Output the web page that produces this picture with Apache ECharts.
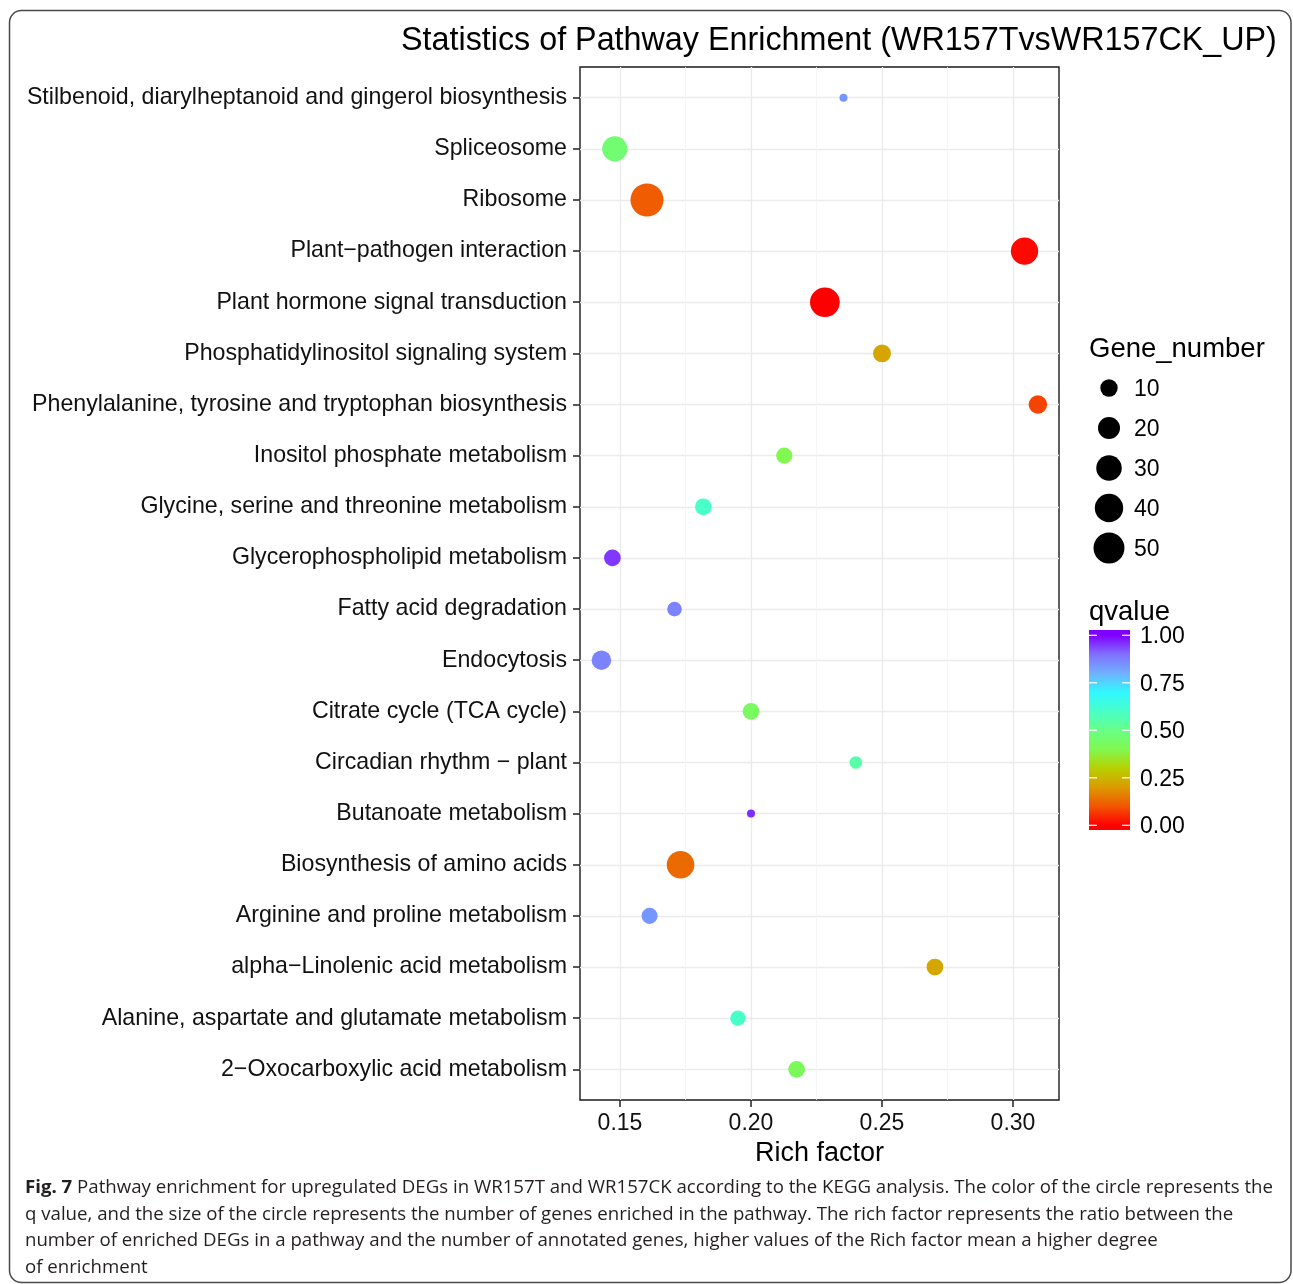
<!DOCTYPE html>
<html>
<head>
<meta charset="utf-8">
<script src="https://cdn.jsdelivr.net/npm/echarts@6/dist/echarts.min.js"></script>
<style>
  html, body { margin: 0; padding: 0; background: #fff; }
  #chart { width: 1293px; height: 1284px; }
</style>
</head>
<body>
<div id="chart"></div>
<script>
// KEGG pathways, listed bottom-to-top on the y axis
const pathways = [
  '2\u2212Oxocarboxylic acid metabolism',
  'Alanine, aspartate and glutamate metabolism',
  'alpha\u2212Linolenic acid metabolism',
  'Arginine and proline metabolism',
  'Biosynthesis of amino acids',
  'Butanoate metabolism',
  'Circadian rhythm \u2212 plant',
  'Citrate cycle (TCA cycle)',
  'Endocytosis',
  'Fatty acid degradation',
  'Glycerophospholipid metabolism',
  'Glycine, serine and threonine metabolism',
  'Inositol phosphate metabolism',
  'Phenylalanine, tyrosine and tryptophan biosynthesis',
  'Phosphatidylinositol signaling system',
  'Plant hormone signal transduction',
  'Plant\u2212pathogen interaction',
  'Ribosome',
  'Spliceosome',
  'Stilbenoid, diarylheptanoid and gingerol biosynthesis'
];
const richFactor = [
  0.2174, 0.1950, 0.2702, 0.1613, 0.1731, 0.2000, 0.2400, 0.2000, 0.1429, 0.1708,
  0.1471, 0.1818, 0.2127, 0.3095, 0.2500, 0.2282, 0.3044, 0.1603, 0.1480, 0.2353
];
const geneNumber = [
  9, 7, 9, 8, 37, 2, 4, 9, 14, 6,
  9, 9, 8, 12, 11, 45, 36, 59, 29, 2
];
const qValue = [
  0.42, 0.60, 0.22, 0.84, 0.13, 0.96, 0.55, 0.43, 0.87, 0.87,
  0.95, 0.60, 0.40, 0.08, 0.22, 0.00, 0.01, 0.11, 0.46, 0.84
];

// axis ticks
const xTicks = [0.15, 0.20, 0.25, 0.30];
const xMinorTicks = [0.175, 0.225, 0.275];
const xMin = 0.13473, xMax = 0.31756;

// legends
const sizeBreaks = [10, 20, 30, 40, 50];
const qBreaks = [0, 0.25, 0.5, 0.75, 1];
const qBreakLabels = ['0.00', '0.25', '0.50', '0.75', '1.00'];

// colour ramp for q value, evenly spaced from 0 to 1
const qColors = [
  '#FF0000', '#F25500', '#DC9A00', '#B8D000', '#80F850', '#68FF88',
  '#48FFC8', '#30F8FF', '#70B0FF', '#8070FF', '#8000FF'
];

// point diameter (px) from gene count, area-style scaling
const gMin = 2, gMax = 59;
function sizeOf(g) {
  return 8 + 25 * Math.sqrt(Math.max(0, g - gMin) / (gMax - gMin));
}

const FONT = '"Liberation Sans", Arial, Helvetica, sans-serif';
const CAP_FONT = '"Open Sans", "Noto Sans", sans-serif';

const chart = echarts.init(document.getElementById('chart'), null, { renderer: 'canvas' });

const points = pathways.map((p, i) => [richFactor[i], i, geneNumber[i], qValue[i]]);
const yTicks = pathways.map((p, i) => i);

// colour bar geometry
const barX = 1089, barTop = 630, barBottom = 830, barW = 41;
const qToY = v => 825.3 - v * 190;
const barLow = (825.3 - barBottom) / 190;   // value at bar bottom
const barHigh = (825.3 - barTop) / 190;     // value at bar top
const gradStops = [{ offset: 0, color: qColors[0] }];
qColors.forEach((c, i) => {
  const v = i / (qColors.length - 1);
  gradStops.push({ offset: (v - barLow) / (barHigh - barLow), color: c });
});
gradStops.push({ offset: 1, color: qColors[qColors.length - 1] });

const graphics = [];

// outer rounded frame
graphics.push({
  type: 'rect', silent: true, z: 0,
  shape: { x: 9.5, y: 10.5, width: 1281.5, height: 1272, r: 12 },
  style: { fill: 'none', stroke: '#4a4a4a', lineWidth: 1.5 }
});

// title
graphics.push({
  type: 'text', left: 401, top: 25,
  style: { text: 'Statistics of Pathway Enrichment (WR157TvsWR157CK_UP)', font: '32.3px ' + FONT, fill: '#000' }
});

// size legend
graphics.push({
  type: 'text', x: 1089, y: 349.5,
  style: { text: 'Gene_number', font: '27.5px ' + FONT, fill: '#000', verticalAlign: 'middle' }
});
sizeBreaks.forEach((g, i) => {
  const cy = 388 + i * 40;
  graphics.push({
    type: 'circle', shape: { cx: 1109, cy: cy, r: sizeOf(g) / 2 },
    style: { fill: '#000' }
  });
  graphics.push({
    type: 'text', x: 1134, y: cy + 1.5,
    style: { text: String(g), font: '23px ' + FONT, fill: '#000', verticalAlign: 'middle' }
  });
});

// colour bar legend
graphics.push({
  type: 'text', x: 1089, y: 612.5,
  style: { text: 'qvalue', font: '27.5px ' + FONT, fill: '#000', verticalAlign: 'middle' }
});
graphics.push({
  type: 'rect', shape: { x: barX, y: barTop, width: barW, height: barBottom - barTop },
  style: { fill: { type: 'linear', x: 0, y: 1, x2: 0, y2: 0, colorStops: gradStops } }
});
qBreaks.forEach((v, i) => {
  const y = qToY(v);
  graphics.push({
    type: 'line', shape: { x1: barX, y1: y, x2: barX + 8, y2: y },
    style: { stroke: '#fff', lineWidth: 1.2 }
  });
  graphics.push({
    type: 'line', shape: { x1: barX + barW - 8, y1: y, x2: barX + barW, y2: y },
    style: { stroke: '#fff', lineWidth: 1.2 }
  });
  graphics.push({
    type: 'text', x: 1140, y: y + 1.5,
    style: { text: qBreakLabels[i], font: '23px ' + FONT, fill: '#000', verticalAlign: 'middle' }
  });
});

// figure caption
graphics.push({
  type: 'text', x: 25, y: 1174,
  style: {
    text: '{b|Fig. 7} Pathway enrichment for upregulated DEGs in WR157T and WR157CK according to the KEGG analysis. The color of the circle represents the\n' +
          'q value, and the size of the circle represents the number of genes enriched in the pathway. The rich factor represents the ratio between the\n' +
          'number of enriched DEGs in a pathway and the number of annotated genes, higher values of the Rich factor mean a higher degree\n' +
          'of enrichment',
    font: '18.65px ' + CAP_FONT,
    fill: '#231F20',
    lineHeight: 26.8,
    rich: {
      b: { font: 'bold 18.65px ' + CAP_FONT, fill: '#231F20', lineHeight: 26.8 }
    }
  }
});

const option = {
  backgroundColor: '#ffffff',
  animation: false,
  grid: {
    left: 580, top: 67, width: 479, height: 1033,
    show: true, borderColor: '#1a1a1a', borderWidth: 1.4, backgroundColor: 'transparent',
    containLabel: false, outerBoundsMode: 'none'
  },
  xAxis: [
    {
      type: 'value', min: xMin, max: xMax, position: 'bottom',
      axisLine: { show: false, onZero: false },
      axisTick: { show: true, length: 7, lineStyle: { color: '#222', width: 1.5 }, customValues: xTicks },
      axisLabel: {
        customValues: xTicks, formatter: v => v.toFixed(2),
        fontSize: 23, fontFamily: FONT, color: '#111', margin: 12
      },
      splitLine: { show: true, lineStyle: { color: '#EBEBEB', width: 1.3 } },
      name: 'Rich factor', nameLocation: 'middle', nameGap: 38,
      nameTextStyle: { fontSize: 27, fontFamily: FONT, color: '#000' }
    },
    {
      type: 'value', min: xMin, max: xMax, position: 'top',
      axisLine: { show: false, onZero: false },
      axisTick: { show: false, customValues: xMinorTicks },
      axisLabel: { show: false, customValues: xMinorTicks },
      splitLine: { show: true, lineStyle: { color: '#F4F4F4', width: 0.8 } }
    }
  ],
  yAxis: {
    type: 'value', min: -0.6, max: 19.6, position: 'left',
    axisLine: { show: false, onZero: false },
    axisTick: { show: true, length: 7, lineStyle: { color: '#222', width: 1.5 }, customValues: yTicks },
    axisLabel: {
      customValues: yTicks, formatter: v => pathways[Math.round(v)],
      fontSize: 23.2, fontFamily: FONT, color: '#111', margin: 13,
      padding: [4, 0, 0, 0]
    },
    splitLine: { show: true, lineStyle: { color: '#EBEBEB', width: 1.3 } }
  },
  visualMap: {
    type: 'continuous', show: false, seriesIndex: 0, dimension: 3,
    min: 0, max: 1, inRange: { color: qColors }
  },
  series: [{
    type: 'scatter',
    xAxisIndex: 0,
    data: points,
    encode: { x: 0, y: 1 },
    symbol: 'circle',
    symbolSize: d => sizeOf(d[2]),
    itemStyle: { opacity: 1, borderWidth: 0 },
    z: 5
  }],
  graphic: graphics
};

chart.setOption(option);
</script>
</body>
</html>
